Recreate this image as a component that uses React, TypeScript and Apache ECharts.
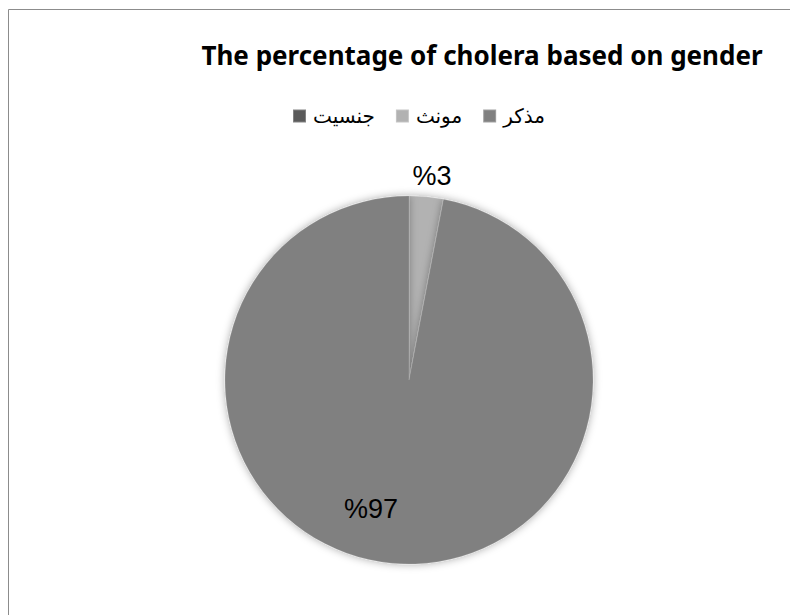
import React, { useEffect, useRef } from "react";
import * as echarts from "echarts";

const titleText = "The percentage of cholera based on gender";
const legendOrder = ["جنسيت", "مونث", "مذكر"];
const sliceNames = ["مونث", "مذكر", "جنسيت"];
const sliceValues = [3, 97, 0];
const sliceColors = ["#b2b2b2", "#808080", "#5a5a5a"];

export default function App() {
  const ref = useRef<HTMLDivElement>(null);
  useEffect(() => {
    if (!ref.current) return;
    const chart = echarts.init(ref.current, undefined, { renderer: "svg" });
    chart.setOption({
      animation: false,
      backgroundColor: "#ffffff",
      graphic: [
        {
          type: "rect",
          shape: { x: 8.5, y: 9.5, width: 900, height: 800 },
          style: { fill: "none", stroke: "#8c8c8c", lineWidth: 1 },
          silent: true,
        },
      ],
      title: {
        text: titleText,
        left: 477,
        top: 37,
        textAlign: "center",
        textStyle: {
          fontFamily: "Noto Sans",
          fontWeight: "bold",
          fontSize: 26,
          color: "#000000",
        },
      },
      legend: {
        data: legendOrder,
        left: 287,
        top: 101,
        itemWidth: 13,
        itemHeight: 13,
        itemGap: 20,
        icon: "rect",
        textStyle: {
          fontFamily: "DejaVu Sans",
          fontSize: 20,
          color: "#000000",
          padding: [0, 0, 0, 2],
        },
      },
      series: [
        {
          type: "pie",
          center: [409, 380],
          radius: [0, 184],
          startAngle: 90,
          clockwise: true,
          avoidLabelOverlap: false,
          data: sliceNames.map((n, i) => ({
            name: n,
            value: sliceValues[i],
            itemStyle: { color: sliceColors[i] },
            label:
              i === 0
                ? { position: "outside", show: true }
                : i === 1
                ? { position: "inside", show: true }
                : { show: false },
            labelLine: { show: false, length: 8, length2: 0 },
          })),
          itemStyle: {
            borderColor: "rgba(255,255,255,0.25)",
            borderWidth: 0.5,
            shadowBlur: 8,
            shadowColor: "rgba(0,0,0,0.35)",
          },
          label: {
            formatter: (p: any) => "%" + p.value,
            fontFamily: "Liberation Sans",
            fontSize: 27,
            color: "#000000",
            distanceToLabelLine: 0,
          },
          labelLayout: (p: any) => {
            if (p.dataIndex === 1)
              return { x: 371, y: 509, align: "center", verticalAlign: "middle" };
            if (p.dataIndex === 0)
              return { x: 432, y: 176, align: "center", verticalAlign: "middle" };
            return {};
          },
          emphasis: { disabled: true },
        },
      ],
    });
    return () => chart.dispose();
  }, []);
  return (
    <div
      ref={ref}
      style={{ position: "absolute", left: 0, top: 0, width: 790, height: 615 }}
    />
  );
}
